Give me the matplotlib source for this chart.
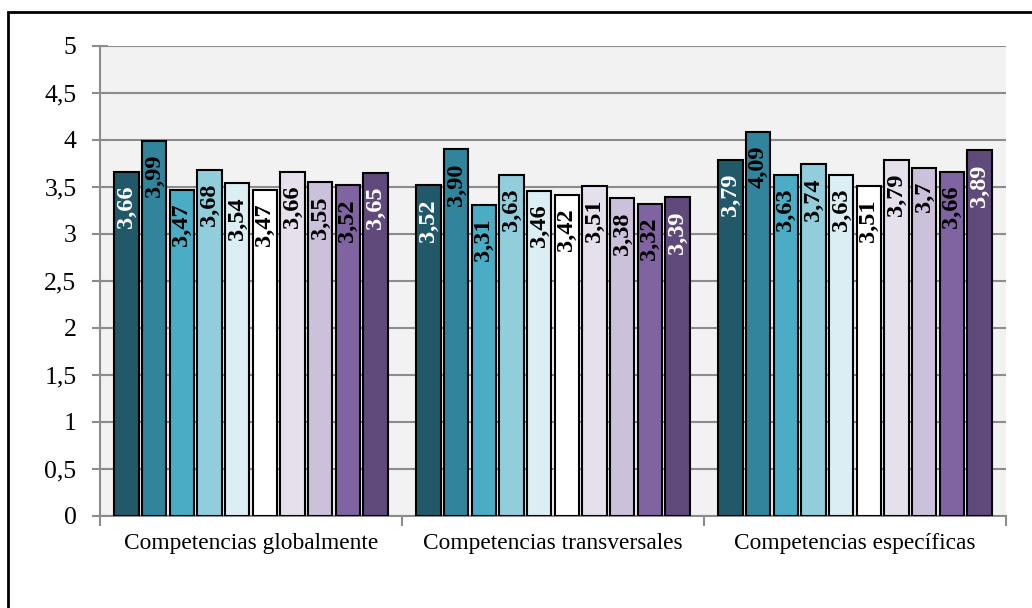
import matplotlib
matplotlib.use("Agg")
import matplotlib.pyplot as plt
import numpy as np
from matplotlib.patches import Rectangle

categories = ["Competencias globalmente", "Competencias transversales", "Competencias específicas"]
series_values = [
    [3.66, 3.52, 3.79],
    [3.99, 3.90, 4.09],
    [3.47, 3.31, 3.63],
    [3.68, 3.63, 3.74],
    [3.54, 3.46, 3.63],
    [3.47, 3.42, 3.51],
    [3.66, 3.51, 3.79],
    [3.55, 3.38, 3.70],
    [3.52, 3.32, 3.66],
    [3.65, 3.39, 3.89],
]
label_texts = [
    ["3,66", "3,52", "3,79"],
    ["3,99", "3,90", "4,09"],
    ["3,47", "3,31", "3,63"],
    ["3,68", "3,63", "3,74"],
    ["3,54", "3,46", "3,63"],
    ["3,47", "3,42", "3,51"],
    ["3,66", "3,51", "3,79"],
    ["3,55", "3,38", "3,7"],
    ["3,52", "3,32", "3,66"],
    ["3,65", "3,39", "3,89"],
]
bar_colors = ["#215968", "#31849B", "#4BACC6", "#92CDDC", "#DAEEF3",
              "#FFFFFF", "#E5E0EC", "#CCC1DA", "#8064A2", "#604A7B"]
label_colors = ["white", "black", "black", "black", "black",
                "black", "black", "black", "black", "white"]
yticks = [0, 0.5, 1, 1.5, 2, 2.5, 3, 3.5, 4, 4.5, 5]
ytick_labels = ["0", "0,5", "1", "1,5", "2", "2,5", "3", "3,5", "4", "4,5", "5"]

plt.rcParams['font.family'] = ['Liberation Serif', 'DejaVu Serif']

fig = plt.figure(figsize=(10.32, 6.08), dpi=100)
ax = fig.add_axes([100/1032, 1-516/608, 906/1032, 470/608])
ax.set_facecolor("#F2F2F2")

n = len(series_values)
step = 0.0917
width = 0.081
x = np.arange(len(categories))
for i, vals in enumerate(series_values):
    pos = x + (i - (n - 1) / 2) * step
    bars = ax.bar(pos, vals, width=width, color=bar_colors[i],
                  edgecolor="black", linewidth=1.5, zorder=3)
    for b, v, t in zip(bars, vals, label_texts[i]):
        ax.annotate(t, xy=(b.get_x() + b.get_width() / 2, v),
                    xytext=(0, -10), textcoords="offset points",
                    rotation=90, ha="center", va="top",
                    fontsize=17.5, fontweight="bold", color=label_colors[i],
                    zorder=4)

ax.set_xlim(-0.5, len(categories) - 0.5)
ax.set_ylim(0, 5)
ax.set_yticks(yticks)
ax.set_yticklabels(ytick_labels, fontsize=18.5)
ax.yaxis.grid(True, color="#8C8C8C", linewidth=1.5, zorder=0)
ax.set_axisbelow(True)

ax.set_xticks(np.arange(len(categories) + 1) - 0.5)
ax.set_xticklabels([])
ax.set_xticks(x, minor=True)
ax.set_xticklabels(categories, minor=True, fontsize=16.8)
ax.tick_params(axis="x", which="minor", length=0, pad=12)
ax.tick_params(axis="x", which="major", direction="out", length=7, color="#8C8C8C", width=1.5)
ax.tick_params(axis="y", direction="inout", length=12, color="#8C8C8C", width=1.5, pad=11)

for s in ["top", "right"]:
    ax.spines[s].set_visible(False)
for s in ["left", "bottom"]:
    ax.spines[s].set_color("#8C8C8C")
    ax.spines[s].set_linewidth(1.5)

fig.patches.append(Rectangle((8/1032, -0.1), 1.2, (608-12)/608 + 0.1,
                             transform=fig.transFigure, fill=False,
                             edgecolor="black", linewidth=2, clip_on=False))

fig.savefig("out.png", dpi=100)
